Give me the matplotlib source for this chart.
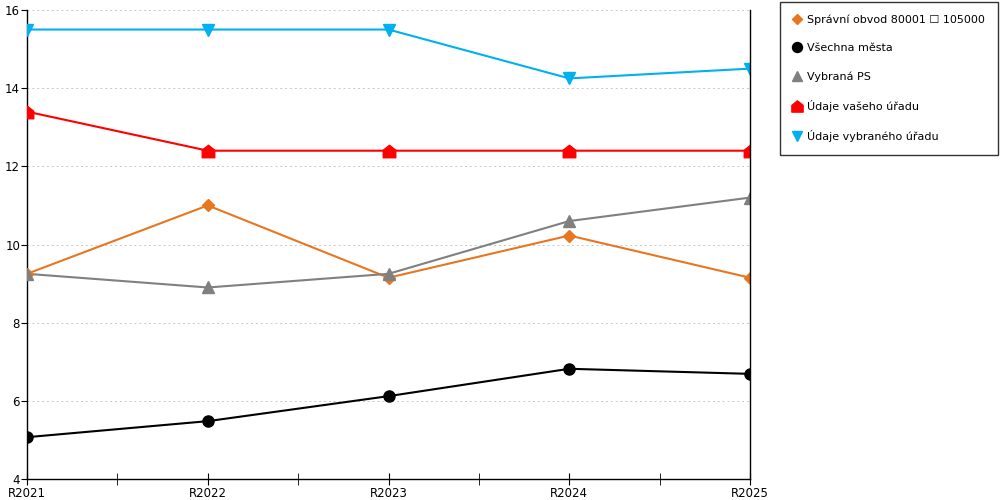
import matplotlib
matplotlib.use('Agg')
import matplotlib.pyplot as plt
from matplotlib.path import Path
from matplotlib.ticker import MultipleLocator
import numpy as np

years = ['R2021', 'R2022', 'R2023', 'R2024', 'R2025']

obvod = [9.25, 11.0, 9.15, 10.23, 9.15]
mesta = [5.07, 5.48, 6.12, 6.82, 6.69]
vybrana_ps = [9.25, 8.9, 9.25, 10.6, 11.2]
vas_urad = [13.4, 12.4, 12.4, 12.4, 12.4]
vybrany_urad = [15.5, 15.5, 15.5, 14.25, 14.5]

labels = ['Správní obvod 80001 \u2610 105000', 'Všechna města', 'Vybraná PS',
          'Údaje vašeho úřadu', 'Údaje vybraného úřadu']

# domecek (pentagon) pro "Údaje vašeho úřadu"
house = Path([(-1, -1), (1, -1), (1, 0.2), (0, 1), (-1, 0.2), (-1, -1)],
             [Path.MOVETO, Path.LINETO, Path.LINETO, Path.LINETO, Path.LINETO, Path.CLOSEPOLY])

series = [
    (obvod, '#e8761e', 'D', 6),
    (mesta, '#000000', 'o', 8),
    (vybrana_ps, '#808080', '^', 8),
    (vas_urad, '#ff0000', house, 9),
    (vybrany_urad, '#00b0f0', 'v', 8),
]

plt.rcParams['font.family'] = ['DejaVu Sans']
plt.rcParams['font.size'] = 8

fig = plt.figure(figsize=(10, 5), dpi=100)
ax = fig.add_axes([0.027, 0.042, 0.723, 0.938])

x = np.arange(len(years))
handles = []
for (vals, col, mk, ms), lab in zip(series, labels):
    ax.plot(x, vals, color=col, lw=1.5, zorder=3)
    h, = ax.plot(x, vals, color=col, marker=mk, ms=ms, lw=0, zorder=4, label=lab)
    handles.append(h)

ax.set_xlim(0, 4)
ax.set_ylim(4, 16)
ax.set_xticks(x)
ax.set_xticklabels(years, fontsize=8.5)
ax.tick_params(axis='y', labelsize=8.5)
ax.xaxis.set_minor_locator(MultipleLocator(0.5))
ax.yaxis.set_major_locator(MultipleLocator(2))
ax.tick_params(axis='x', which='both', direction='inout', length=8, pad=2)
ax.tick_params(axis='y', direction='out', length=4, pad=1)
ax.grid(axis='y', color='#c8c8c8', ls=(0, (2, 3)), lw=0.7)
ax.spines['top'].set_visible(False)
for s in ['left', 'right', 'bottom']:
    ax.spines[s].set_linewidth(1)
ax.spines['right'].set_zorder(5)

leg = fig.legend(handles=handles, loc='upper right', bbox_to_anchor=(0.998, 0.996),
                 frameon=True, fancybox=False, edgecolor='black', handlelength=0.8,
                 handletextpad=0.5, labelspacing=1.62, borderpad=1.15, fontsize=8,
                 markerscale=0.9, borderaxespad=0)
leg.get_frame().set_linewidth(1)

fig.savefig('out.png', dpi=100)
